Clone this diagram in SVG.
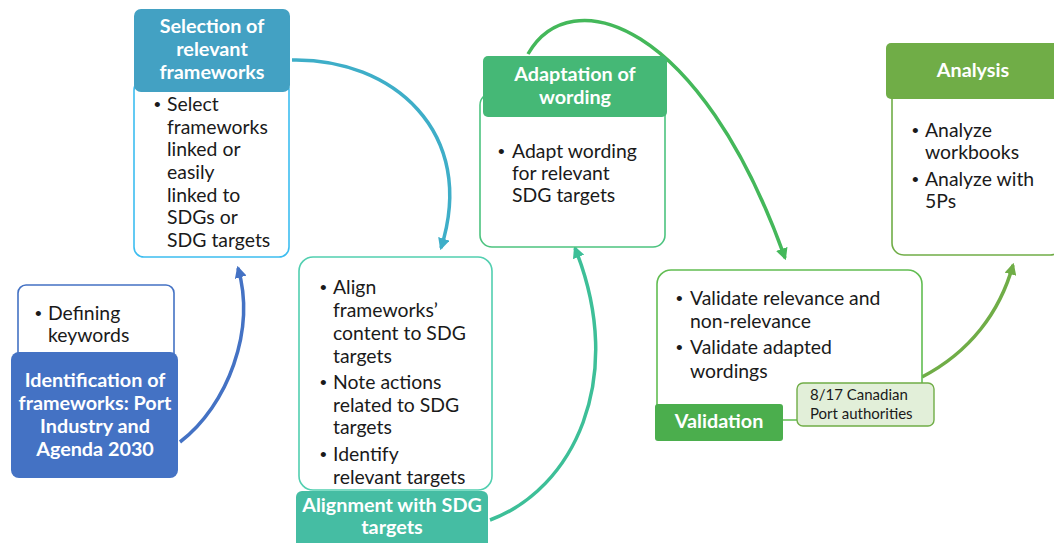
<svg xmlns="http://www.w3.org/2000/svg" width="1054" height="543" viewBox="0 0 1054 543">
  <style>
    .body { fill: #ffffff; stroke-width: 1.6; }
    .hd { font-family: Lato, "Liberation Sans", sans-serif; font-weight: bold; font-size: 19.8px; fill: #ffffff; text-anchor: middle; }
    .tx { font-family: Lato, "Liberation Sans", sans-serif; font-size: 19.4px; fill: #1a1a1a; }
    .bl { font-family: "Liberation Sans", sans-serif; font-size: 19px; fill: #1a1a1a; }
    .sm { font-family: Lato, "Liberation Sans", sans-serif; font-size: 15px; fill: #1a1a1a; }
    .arc { fill: none; stroke-width: 3.5; }
  </style>
  <defs>
    <marker id="ahBlue" viewBox="0 0 10 10" refX="8" refY="5" markerWidth="12" markerHeight="12" markerUnits="userSpaceOnUse" orient="auto"><path d="M0,0 L10,5 L0,10 z" fill="#4472c4"/></marker>
    <marker id="ahTeal" viewBox="0 0 10 10" refX="8" refY="5" markerWidth="12" markerHeight="12" markerUnits="userSpaceOnUse" orient="auto"><path d="M0,0 L10,5 L0,10 z" fill="#3eaec8"/></marker>
    <marker id="ahSea" viewBox="0 0 10 10" refX="8" refY="5" markerWidth="12" markerHeight="12" markerUnits="userSpaceOnUse" orient="auto"><path d="M0,0 L10,5 L0,10 z" fill="#3dbf98"/></marker>
    <marker id="ahGreen" viewBox="0 0 10 10" refX="8" refY="5" markerWidth="12" markerHeight="12" markerUnits="userSpaceOnUse" orient="auto"><path d="M0,0 L10,5 L0,10 z" fill="#44b85a"/></marker>
    <marker id="ahLeaf" viewBox="0 0 10 10" refX="8" refY="5" markerWidth="12" markerHeight="12" markerUnits="userSpaceOnUse" orient="auto"><path d="M0,0 L10,5 L0,10 z" fill="#70ad47"/></marker>
  </defs>

  <rect width="1054" height="543" fill="#ffffff"/>

  <!-- connectors -->
  <g id="connectors">
    <path class="arc" stroke="#4472c4" d="M180,442 C 228,405 256,330 238,268" marker-end="url(#ahBlue)"/>
    <path class="arc" stroke="#3eaec8" d="M292,60 C 392,58 478,132 441,248" marker-end="url(#ahTeal)"/>
    <path class="arc" stroke="#3dbf98" d="M490,520 C 572,490 628,380 575,248" marker-end="url(#ahSea)"/>
    <path class="arc" stroke="#44b85a" d="M528,54 C 570,-20 700,20 785,258" marker-end="url(#ahGreen)"/>
    <path class="arc" stroke="#70ad47" d="M922,377 C 970,352 1000,312 1013,265" marker-end="url(#ahLeaf)"/>
    <line x1="783" y1="419" x2="797" y2="419" stroke="#70ad47" stroke-width="1.6"/>
  </g>

  <!-- step 1 -->
  <g id="identification">
    <rect class="body" x="18" y="285" width="156" height="80" rx="8" stroke="#4472c4"/>
    <text class="bl" x="35" y="320">•</text>
    <text class="tx" x="48" y="320">Defining</text>
    <text class="tx" x="48" y="342">keywords</text>
    <rect x="11" y="352" width="167" height="126" rx="8" fill="#4472c4"/>
    <text class="hd" x="95" y="387">Identification of</text>
    <text class="hd" x="95" y="410">frameworks: Port</text>
    <text class="hd" x="95" y="433">Industry and</text>
    <text class="hd" x="95" y="456">Agenda 2030</text>
  </g>

  <!-- step 2 -->
  <g id="selection">
    <rect class="body" x="134" y="80" width="155" height="177" rx="10" stroke="#3dbdf0"/>
    <rect x="134" y="9" width="156" height="83" rx="7" fill="#43a1c3"/>
    <text class="hd" x="212" y="33">Selection of</text>
    <text class="hd" x="212" y="56">relevant</text>
    <text class="hd" x="212" y="79">frameworks</text>
    <text class="bl" x="154" y="111">•</text>
    <text class="tx" x="167" y="111">Select</text>
    <text class="tx" x="167" y="134">frameworks</text>
    <text class="tx" x="167" y="156">linked or</text>
    <text class="tx" x="167" y="179">easily</text>
    <text class="tx" x="167" y="202">linked to</text>
    <text class="tx" x="167" y="224">SDGs or</text>
    <text class="tx" x="167" y="247">SDG targets</text>
  </g>

  <!-- step 3 -->
  <g id="alignment">
    <rect class="body" x="299" y="257" width="193" height="233" rx="14" stroke="#52cfb0"/>
    <text class="bl" x="320" y="294">•</text>
    <text class="tx" x="333" y="294">Align</text>
    <text class="tx" x="333" y="317">frameworks’</text>
    <text class="tx" x="333" y="340">content to SDG</text>
    <text class="tx" x="333" y="363">targets</text>
    <text class="bl" x="320" y="389">•</text>
    <text class="tx" x="333" y="389">Note actions</text>
    <text class="tx" x="333" y="412">related to SDG</text>
    <text class="tx" x="333" y="434">targets</text>
    <text class="bl" x="320" y="461">•</text>
    <text class="tx" x="333" y="461">Identify</text>
    <text class="tx" x="333" y="484">relevant targets</text>
    <rect x="296" y="491" width="192" height="60" rx="6" fill="#45bda3"/>
    <text class="hd" x="392" y="512">Alignment with SDG</text>
    <text class="hd" x="392" y="534">targets</text>
  </g>

  <!-- step 4 -->
  <g id="adaptation">
    <rect class="body" x="480" y="93" width="185" height="154" rx="12" stroke="#4cc37f"/>
    <rect x="483" y="56" width="184" height="61" rx="5" fill="#45b876"/>
    <text class="hd" x="575" y="81">Adaptation of</text>
    <text class="hd" x="575" y="104">wording</text>
    <text class="bl" x="498" y="158">•</text>
    <text class="tx" x="512" y="158">Adapt wording</text>
    <text class="tx" x="512" y="180">for relevant</text>
    <text class="tx" x="512" y="202">SDG targets</text>
  </g>

  <!-- step 5 -->
  <g id="validation">
    <rect class="body" x="657" y="270" width="265" height="150" rx="14" stroke="#62bd52"/>
    <text class="bl" x="676" y="305">•</text>
    <text class="tx" x="690" y="305">Validate relevance and</text>
    <text class="tx" x="690" y="328">non-relevance</text>
    <text class="bl" x="676" y="354">•</text>
    <text class="tx" x="690" y="354">Validate adapted</text>
    <text class="tx" x="690" y="378">wordings</text>
    <rect x="655" y="404" width="128" height="37" rx="3" fill="#4bae4d"/>
    <text class="hd" x="719" y="428">Validation</text>
  </g>

  <g id="ports-note">
    <rect x="797" y="383" width="137" height="43" rx="6" fill="#e2efd9" stroke="#70ad47" stroke-width="1.4"/>
    <text class="sm" x="810" y="400">8/17 Canadian</text>
    <text class="sm" x="810" y="419">Port authorities</text>
  </g>

  <!-- step 6 -->
  <g id="analysis">
    <rect class="body" x="892" y="80" width="170" height="175" rx="12" stroke="#70ad47"/>
    <rect x="886" y="43" width="175" height="56" rx="5" fill="#70ad47"/>
    <text class="hd" x="973" y="77">Analysis</text>
    <text class="bl" x="912" y="137">•</text>
    <text class="tx" x="925" y="137">Analyze</text>
    <text class="tx" x="925" y="159">workbooks</text>
    <text class="bl" x="912" y="186">•</text>
    <text class="tx" x="925" y="186">Analyze with</text>
    <text class="tx" x="925" y="208">5Ps</text>
  </g>
</svg>
